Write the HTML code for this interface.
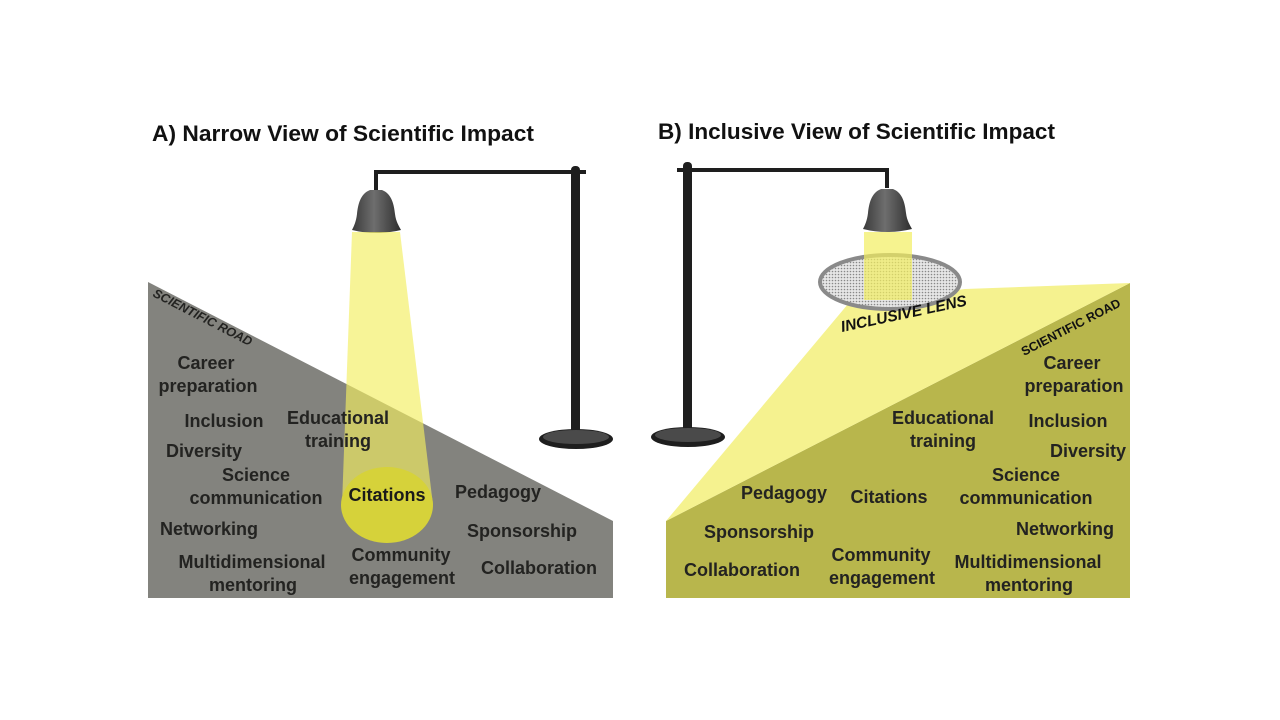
<!DOCTYPE html>
<html><head><meta charset="utf-8"><style>
html,body{margin:0;padding:0;background:#fff}
svg{display:block}
text{font-family:"Liberation Sans",sans-serif;font-weight:bold;fill:#232321}
.t{font-size:18px}
.h{font-size:22px;fill:#111}
</style></head><body>
<svg width="1280" height="720" viewBox="0 0 1280 720" xmlns="http://www.w3.org/2000/svg">
<defs>
<linearGradient id="bell" x1="0" x2="1" y1="0" y2="0">
<stop offset="0" stop-color="#3a3a3a"/><stop offset="0.45" stop-color="#6e6e6e"/><stop offset="1" stop-color="#2e2e2e"/>
</linearGradient>
<pattern id="dots" width="3" height="3" patternUnits="userSpaceOnUse">
<rect width="3" height="3" fill="#e6e6e6"/><circle cx="1.5" cy="1.5" r="0.8" fill="#888"/>
</pattern>
</defs>
<text class="h" x="152" y="141" textLength="382" lengthAdjust="spacingAndGlyphs">A) Narrow View of Scientific Impact</text>
<text class="h" x="658" y="139" textLength="397" lengthAdjust="spacingAndGlyphs">B) Inclusive View of Scientific Impact</text>

<!-- LEFT PANEL -->
<polygon points="148,282 613,521 613,598 148,598" fill="#83837e"/>
<rect x="571" y="166" width="9" height="272" rx="4" fill="#1e1e1e"/>
<ellipse cx="576" cy="439" rx="37" ry="10" fill="#1e1e1e"/>
<ellipse cx="576" cy="437" rx="33" ry="7" fill="#4a4a4a"/>
<rect x="374" y="170" width="212" height="4" fill="#1e1e1e"/>
<rect x="374" y="170" width="4" height="20" fill="#1e1e1e"/>
<path d="M370,190 L382,190 C392,194 394,205 395,214 C396,222 399,226 401,230 Q376,236 352,230 C354,226 356,222 357,214 C358,205 360,194 370,190 Z" fill="url(#bell)"/>
<polygon points="352,232 400,232 433,505 342,505" fill="#f2ee60" opacity="0.65"/>
<ellipse cx="387" cy="505" rx="46" ry="38" fill="#d6d23a"/>
<text x="152" y="296" transform="rotate(27.2 152 296)" style="font-size:12.5px;font-style:italic">SCIENTIFIC ROAD</text>
<text class="t" text-anchor="middle" x="206" y="369">Career</text>
<text class="t" text-anchor="middle" x="208" y="392">preparation</text>
<text class="t" text-anchor="middle" x="224" y="427">Inclusion</text>
<text class="t" text-anchor="middle" x="204" y="457">Diversity</text>
<text class="t" text-anchor="middle" x="338" y="424">Educational</text>
<text class="t" text-anchor="middle" x="338" y="447">training</text>
<text class="t" text-anchor="middle" x="256" y="481">Science</text>
<text class="t" text-anchor="middle" x="256" y="504">communication</text>
<text class="t" text-anchor="middle" x="387" y="501" style="fill:#1a1a1a">Citations</text>
<text class="t" text-anchor="middle" x="498" y="498">Pedagogy</text>
<text class="t" text-anchor="middle" x="209" y="535">Networking</text>
<text class="t" text-anchor="middle" x="522" y="537">Sponsorship</text>
<text class="t" text-anchor="middle" x="252" y="568">Multidimensional</text>
<text class="t" text-anchor="middle" x="253" y="591">mentoring</text>
<text class="t" text-anchor="middle" x="401" y="561">Community</text>
<text class="t" text-anchor="middle" x="402" y="584">engagement</text>
<text class="t" text-anchor="middle" x="539" y="574">Collaboration</text>

<!-- RIGHT PANEL -->
<polygon points="666,521 1130,283 1130,598 666,598" fill="#b8b64c"/>
<polygon points="848,304 666,521 1130,283 965,289" fill="#f5f28f"/>
<rect x="683" y="162" width="9" height="275" rx="4" fill="#1e1e1e"/>
<ellipse cx="688" cy="437" rx="37" ry="10" fill="#1e1e1e"/>
<ellipse cx="688" cy="435" rx="33" ry="7" fill="#4a4a4a"/>
<rect x="677" y="168" width="212" height="4" fill="#1e1e1e"/>
<rect x="885" y="168" width="4" height="20" fill="#1e1e1e"/>
<path d="M881,189 L893,189 C903,193 905,204 906,213 C907,221 910,225 912,229 Q887,235 863,229 C865,225 867,221 868,213 C869,204 871,193 881,189 Z" fill="url(#bell)"/>
<ellipse cx="890" cy="282" rx="70" ry="27" fill="url(#dots)" stroke="#8a8a8a" stroke-width="4"/>
<polygon points="864,232 912,232 912,300 864,300" fill="#f2ee60" opacity="0.7"/>
<text x="842" y="332" transform="rotate(-12 842 332)" style="font-size:15.5px;font-style:italic;fill:#111">INCLUSIVE LENS</text>
<text x="1024" y="356" transform="rotate(-27.2 1024 356)" style="font-size:12.5px;fill:#111">SCIENTIFIC ROAD</text>
<text class="t" text-anchor="middle" x="1072" y="369">Career</text>
<text class="t" text-anchor="middle" x="1074" y="392">preparation</text>
<text class="t" text-anchor="middle" x="943" y="424">Educational</text>
<text class="t" text-anchor="middle" x="943" y="447">training</text>
<text class="t" text-anchor="middle" x="1068" y="427">Inclusion</text>
<text class="t" text-anchor="middle" x="1088" y="457">Diversity</text>
<text class="t" text-anchor="middle" x="1026" y="481">Science</text>
<text class="t" text-anchor="middle" x="1026" y="504">communication</text>
<text class="t" text-anchor="middle" x="784" y="499">Pedagogy</text>
<text class="t" text-anchor="middle" x="889" y="503">Citations</text>
<text class="t" text-anchor="middle" x="1065" y="535">Networking</text>
<text class="t" text-anchor="middle" x="759" y="538">Sponsorship</text>
<text class="t" text-anchor="middle" x="742" y="576">Collaboration</text>
<text class="t" text-anchor="middle" x="881" y="561">Community</text>
<text class="t" text-anchor="middle" x="882" y="584">engagement</text>
<text class="t" text-anchor="middle" x="1028" y="568">Multidimensional</text>
<text class="t" text-anchor="middle" x="1029" y="591">mentoring</text>
</svg>
</body></html>
